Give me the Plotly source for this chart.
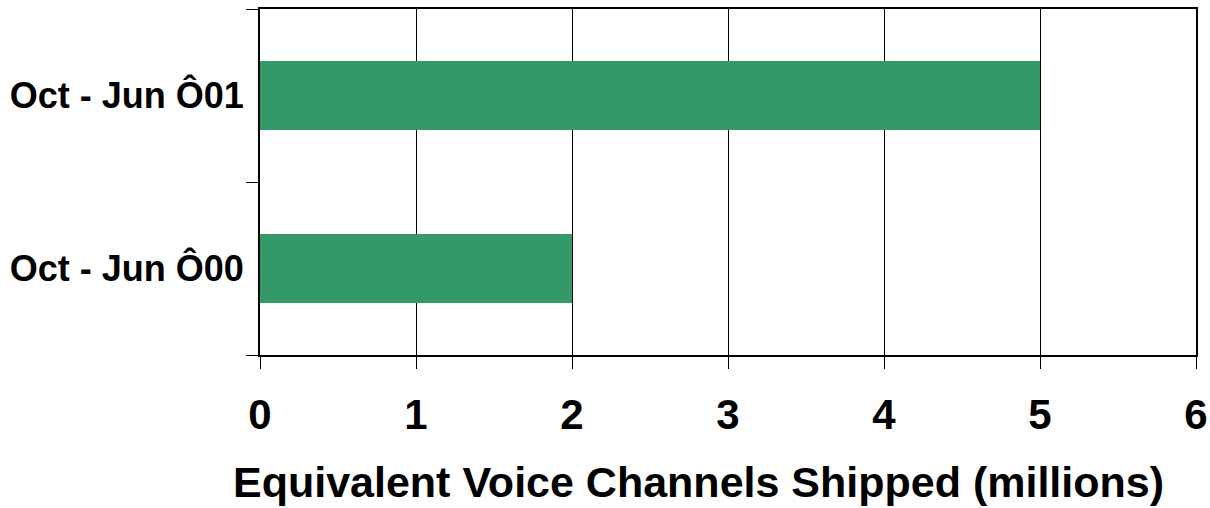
import plotly.graph_objects as go

# Shipment periods and equivalent voice channels shipped (millions)
periods = ["Oct - Jun Ô00", "Oct - Jun Ô01"]
channels = [2, 5]
x_ticks = [0, 1, 2, 3, 4, 5, 6]
x_title = "Equivalent Voice Channels Shipped (millions)"

FONT = "Arial, Liberation Sans, sans-serif"
BAR_COLOR = "#339966"

fig = go.Figure(
    go.Bar(
        x=channels,
        y=periods,
        orientation="h",
        width=0.4,
        marker=dict(color=BAR_COLOR, line=dict(width=0)),
        hoverinfo="x+y",
    )
)

fig.update_layout(
    width=1210,
    height=508,
    margin=dict(l=260, r=14, t=9, b=153),
    paper_bgcolor="white",
    plot_bgcolor="white",
    showlegend=False,
    font=dict(family=FONT, color="black"),
)

fig.update_xaxes(
    range=[0, 6],
    tickvals=x_ticks,
    ticktext=[str(v) for v in x_ticks],
    showgrid=True,
    gridcolor="black",
    gridwidth=1,
    zeroline=False,
    showline=True,
    linecolor="black",
    linewidth=2,
    mirror=True,
    ticks="outside",
    ticklen=12,
    tickwidth=1,
    tickcolor="black",
    tickfont=dict(family=FONT, size=42, weight="bold", color="black"),
    ticklabelstandoff=10,
    automargin=False,
)

fig.update_yaxes(
    type="category",
    categoryorder="array",
    categoryarray=periods,
    range=[-0.5, 1.5],
    showgrid=False,
    zeroline=False,
    showline=True,
    linecolor="black",
    linewidth=2,
    mirror=True,
    ticks="outside",
    tickson="boundaries",
    ticklen=12,
    tickwidth=1,
    tickcolor="black",
    tickfont=dict(family=FONT, size=36, weight="bold", color="black"),
    ticklabelstandoff=7,
    automargin=False,
)

fig.add_annotation(
    text=x_title,
    xref="paper",
    yref="paper",
    x=0.469,
    y=0,
    xanchor="center",
    yanchor="middle",
    yshift=-127,
    showarrow=False,
    font=dict(family=FONT, size=43, weight="bold", color="black"),
)

fig.write_html("out.html")
